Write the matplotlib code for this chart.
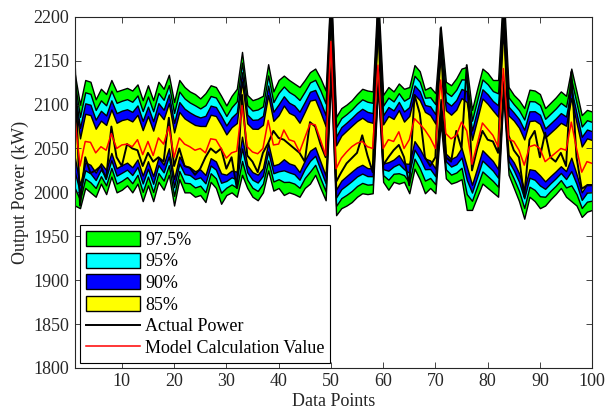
import numpy as np
import matplotlib
matplotlib.use("Agg")
import matplotlib.pyplot as plt

plt.rcParams['font.family'] = ['Liberation Serif', 'DejaVu Serif']

points = np.arange(1, 101)

# model calculation value (red)
model = [2085, 2030, 2058, 2057, 2045, 2052, 2048, 2067, 2050, 2054,
         2055, 2052, 2060, 2043, 2058, 2042, 2062, 2055, 2075, 2040,
         2062, 2055, 2052, 2048, 2050, 2045, 2061, 2060, 2050, 2039,
         2045, 2047, 2099, 2052, 2046, 2044, 2050, 2082, 2054, 2055,
         2071, 2060, 2058, 2046, 2062, 2078, 2077, 2060, 2042, 2172,
         2027, 2039, 2046, 2052, 2056, 2058, 2052, 2050, 2145, 2050,
         2060, 2058, 2069, 2050, 2060, 2084, 2078, 2071, 2062, 2050,
         2128, 2067, 2061, 2065, 2080, 2070, 2032, 2055, 2079, 2072,
         2065, 2052, 2141, 2061, 2058, 2048, 2031, 2052, 2054, 2050,
         2035, 2040, 2045, 2050, 2048, 2080, 2050, 2023, 2035, 2033]

# actual power (black)
actual = [2150, 1985, 2040, 2022, 2025, 2030, 2015, 2075, 2040, 2030,
          2055, 2050, 2048, 2030, 2045, 2035, 2040, 2035, 2085, 2030,
          2050, 2030, 2028, 2020, 2027, 2040, 2050, 2045, 2050, 2027,
          2040, 2005, 2111, 2042, 2035, 2023, 2045, 2056, 2070, 2062,
          2060, 2055, 2050, 2045, 2035, 2080, 2075, 2055, 2040, 2225,
          2012, 2023, 2033, 2039, 2045, 2065, 2042, 2023, 2210, 2031,
          2040, 2048, 2054, 2040, 2008, 2111, 2090, 2040, 2030, 2040,
          2187, 2040, 2035, 2070, 2050, 2145, 2025, 2050, 2070, 2060,
          2058, 2045, 2210, 2065, 2048, 2040, 1995, 2060, 2070, 2040,
          2068, 2040, 2035, 2045, 2030, 2137, 2040, 2004, 2008, 2008]

# 97.5% interval bounds
upper = [2135, 2100, 2128, 2126, 2106, 2118, 2112, 2128, 2115, 2117,
         2119, 2116, 2123, 2105, 2122, 2105, 2126, 2118, 2134, 2103,
         2128, 2120, 2115, 2112, 2107, 2113, 2122, 2120, 2110, 2099,
         2110, 2118, 2160, 2111, 2105, 2107, 2110, 2146, 2115, 2128,
         2133, 2128, 2124, 2120, 2128, 2137, 2141, 2130, 2116, 2240,
         2086, 2096, 2100, 2105, 2112, 2118, 2116, 2115, 2230, 2111,
         2120, 2115, 2124, 2118, 2120, 2145, 2138, 2117, 2120, 2113,
         2189, 2126, 2122, 2130, 2141, 2143, 2094, 2118, 2141, 2136,
         2128, 2128, 2235, 2120, 2111, 2105, 2096, 2117, 2116, 2112,
         2096, 2102, 2108, 2115, 2110, 2141, 2115, 2088, 2094, 2092]
lower = [1985, 1982, 2005, 2000, 1995, 2010, 1998, 2018, 2000, 2003,
         2008, 2000, 2010, 1990, 2008, 1990, 2012, 2003, 2020, 1985,
         2015, 2000, 2000, 1995, 1997, 1989, 2012, 2005, 1987, 1997,
         2000, 1995, 2020, 2005, 1995, 1991, 2000, 2025, 2002, 2005,
         1997, 2000, 1998, 1995, 2005, 2010, 2020, 2005, 1991, 2130,
         1974, 1982, 1985, 1989, 1995, 1999, 1998, 1999, 2120, 2012,
         2003, 2012, 2010, 2012, 1999, 2027, 2015, 1999, 2005, 1999,
         2080, 2016, 2010, 2012, 2015, 1980, 1980, 1995, 2010, 2005,
         2000, 1995, 2110, 2020, 2005, 1990, 1970, 1995, 1990, 1982,
         1985, 1992, 1998, 2005, 1995, 1990, 1985, 1972, 1978, 1980]

levels = ['97.5%', '95%', '90%', '85%']
level_colors = ['#00FF00', '#00FFFF', '#0000FF', '#FFFF00']
# width of each interval relative to the 97.5% one
level_scale = [1.0, 0.8, 0.62, 0.45]

model = np.array(model, float)
upper = np.array(upper, float)
lower = np.array(lower, float)

fig = plt.figure(figsize=(6.08, 4.2), dpi=100)
ax = fig.add_axes([0.123, 0.124, 0.851, 0.836])

for lab, col, s in zip(levels, level_colors, level_scale):
    hi = model + s * (upper - model)
    lo = model - s * (model - lower)
    ax.fill_between(points, lo, hi, facecolor=col, edgecolor='k',
                    linewidth=1.0, label=lab)

ax.plot(points, actual, color='k', lw=1.4, label='Actual Power')
ax.plot(points, model, color='#FF0000', lw=1.1, label='Model Calculation Value')

ax.set_xlim(1, 100)
ax.set_ylim(1800, 2200)
ax.set_xticks(np.arange(10, 101, 10))
ax.set_yticks(np.arange(1800, 2201, 50))
ax.tick_params(direction='in', top=True, right=True, labelsize=13,
               colors='#262626', length=4, width=0.6, pad=4)
for sp in ax.spines.values():
    sp.set_linewidth(0.8)
    sp.set_color('#262626')
ax.set_xlabel('Data Points', fontsize=13, color='#262626', labelpad=2)
ax.set_ylabel('Output Power (kW)', fontsize=13, color='#262626', labelpad=3)

leg = ax.legend(loc='lower left', fontsize=13, fancybox=False, framealpha=1,
                edgecolor='k', handlelength=3.0, handleheight=0.9,
                labelspacing=0.22, handletextpad=0.3, borderpad=0.3,
                borderaxespad=0.3)
leg.get_frame().set_linewidth(0.8)

fig.savefig('out.png', dpi=100)
